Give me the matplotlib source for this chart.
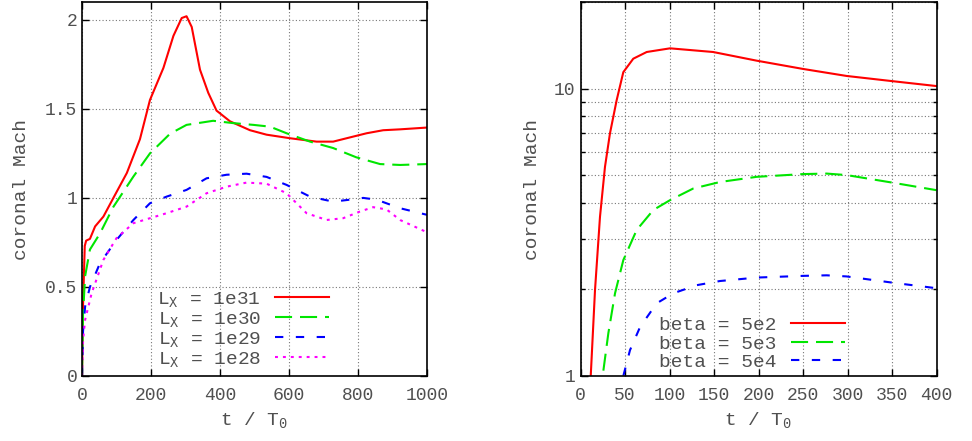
import matplotlib
matplotlib.use("Agg")
import matplotlib.pyplot as plt
from matplotlib.ticker import LogLocator, NullFormatter, FixedLocator

plt.rcParams['font.family'] = ['Liberation Mono', 'DejaVu Sans Mono']
plt.rcParams['mathtext.fontset'] = 'custom'
plt.rcParams['mathtext.rm'] = 'Liberation Mono'
plt.rcParams['mathtext.it'] = 'Liberation Mono'

TXT = '#505050'

# left panel: coronal Mach vs time for different X-ray luminosities
t_31 = [0, 3, 8, 12, 23, 38, 62, 91, 130, 168, 197, 236, 265, 289, 303, 318, 342, 366, 390,
        429, 487, 535, 603, 680, 728, 767, 825, 873, 922, 1000]
m_31 = [0.0, 0.4, 0.73, 0.76, 0.77, 0.84, 0.895, 1.0, 1.14, 1.33, 1.55, 1.73, 1.91, 2.01,
        2.02, 1.96, 1.72, 1.59, 1.49, 1.43, 1.38, 1.355, 1.335, 1.316, 1.316, 1.335, 1.363,
        1.38, 1.385, 1.395]

t_30 = [0, 3, 9, 23, 52, 91, 149, 197, 255, 303, 380, 438, 497, 545, 593, 661, 728, 795,
        864, 922, 1000]
m_30 = [0.0, 0.35, 0.56, 0.71, 0.80, 0.95, 1.12, 1.25, 1.36, 1.41, 1.433, 1.42, 1.41, 1.40,
        1.363, 1.316, 1.28, 1.228, 1.19, 1.185, 1.19]

t_29 = [0, 3, 9, 23, 52, 100, 149, 197, 245, 303, 361, 419, 477, 535, 593, 661, 728, 776,
        815, 854, 922, 1000]
m_29 = [0.0, 0.25, 0.39, 0.50, 0.633, 0.764, 0.876, 0.97, 1.007, 1.045, 1.11, 1.13, 1.136,
        1.118, 1.073, 1.007, 0.979, 0.99, 1.0, 0.99, 0.942, 0.905]

t_28 = [0, 3, 9, 28, 62, 100, 149, 197, 245, 303, 361, 419, 477, 535, 593, 651, 709, 757,
        805, 844, 883, 922, 1000]
m_28 = [0.0, 0.2, 0.315, 0.465, 0.652, 0.774, 0.858, 0.886, 0.914, 0.951, 1.026, 1.063,
        1.086, 1.08, 1.026, 0.914, 0.876, 0.886, 0.923, 0.948, 0.935, 0.876, 0.807]

# right panel: coronal Mach vs time for different plasma beta
t_b2 = [8, 11.5, 16.3, 21.9, 27.5, 33.1, 40.6, 48.1, 59.3, 74.4, 100.6, 149, 198, 250, 299,
        351.5, 400]
m_b2 = [0.6, 1.0, 1.99, 3.58, 5.34, 6.98, 9.1, 11.4, 12.7, 13.4, 13.8, 13.4, 12.5, 11.7,
        11.06, 10.6, 10.2]

t_b3 = [22, 24.9, 31.3, 38.8, 48.1, 63.1, 81.8, 100.6, 126.7, 156.7, 198, 250, 276.6, 299,
        351.5, 400]
m_b3 = [0.7, 1.0, 1.41, 1.94, 2.53, 3.22, 3.78, 4.09, 4.49, 4.73, 4.93, 5.04, 5.06, 5.0,
        4.7, 4.43]

t_b4 = [45, 48.1, 55.6, 66.9, 85.6, 104.3, 130.6, 156.7, 198, 250, 276.6, 299, 351.5, 400]
m_b4 = [0.85, 1.0, 1.23, 1.48, 1.79, 1.94, 2.07, 2.14, 2.2, 2.23, 2.24, 2.22, 2.11, 2.02]

lw = 1.5
fig = plt.figure(figsize=(9.72, 4.41), dpi=100)
ax1 = fig.add_axes([82 / 972, 65 / 441, 345 / 972, 374 / 441])
ax2 = fig.add_axes([580.5 / 972, 65 / 441, 356 / 972, 374 / 441])

ax1.plot(t_31, m_31, color='#ff0000', lw=lw, label='L$_\\mathrm{X}$ = 1e31')
ax1.plot(t_30, m_30, color='#00e600', lw=lw, dashes=(8.2, 3.8), label='L$_\\mathrm{X}$ = 1e30')
ax1.plot(t_29, m_29, color='#0000ff', lw=lw, dashes=(4, 6), label='L$_\\mathrm{X}$ = 1e29')
ax1.plot(t_28, m_28, color='#ff00ff', lw=lw, dashes=(1.4, 2.4), label='L$_\\mathrm{X}$ = 1e28')
ax1.set_xlim(0, 1000)
ax1.set_ylim(0, 2.1)
ax1.set_xticks([0, 200, 400, 600, 800, 1000])
ax1.set_yticks([0, 0.5, 1, 1.5, 2])
ax1.set_yticklabels(['0', '0.5', '1', '1.5', '2'])

ax2.plot(t_b2, m_b2, color='#ff0000', lw=lw, label='beta = 5e2')
ax2.plot(t_b3, m_b3, color='#00e600', lw=lw, dashes=(8.2, 3.8), label='beta = 5e3')
ax2.plot(t_b4, m_b4, color='#0000ff', lw=lw, dashes=(4, 6), label='beta = 5e4')
ax2.set_yscale('log')
ax2.set_xlim(0, 400)
ax2.set_ylim(1, 20)
ax2.set_xticks(range(0, 401, 50))
ax2.yaxis.set_major_locator(FixedLocator([1, 10]))
ax2.set_yticklabels(['1', '10'])
ax2.yaxis.set_minor_locator(LogLocator(base=10, subs=range(2, 10)))
ax2.yaxis.set_minor_formatter(NullFormatter())

grid_kw = dict(color='#777777', lw=0.8, linestyle=(0, (1, 2)))
ax1.grid(True, which='major', **grid_kw)
ax2.grid(True, which='both', **grid_kw)

for ax in (ax1, ax2):
    for s in ax.spines.values():
        s.set_linewidth(1.2)
    ax.tick_params(which='both', direction='in', top=True, right=True, labelsize=13,
                   labelcolor=TXT, length=5, width=1)
    ax.tick_params(which='minor', length=3)
    ax.tick_params(axis='x', pad=8)
    ax.set_xlabel('t / T$_0$', fontsize=14, color=TXT, labelpad=4)
    ax.set_ylabel('coronal Mach', fontsize=14, color=TXT)

ax1.yaxis.set_label_coords(-0.15, 0.5)
ax2.yaxis.set_label_coords(-0.112, 0.5)

leg_kw = dict(frameon=False, markerfirst=False, fontsize=14, handlelength=2.8,
              handletextpad=0.7, labelspacing=0.05, borderpad=0, borderaxespad=0,
              loc='lower right', labelcolor=TXT)
ax1.legend(bbox_to_anchor=(0.716, 0.02), **leg_kw)
ax2.legend(bbox_to_anchor=(0.743, 0.013), **leg_kw)

fig.savefig('out.png', dpi=100)
